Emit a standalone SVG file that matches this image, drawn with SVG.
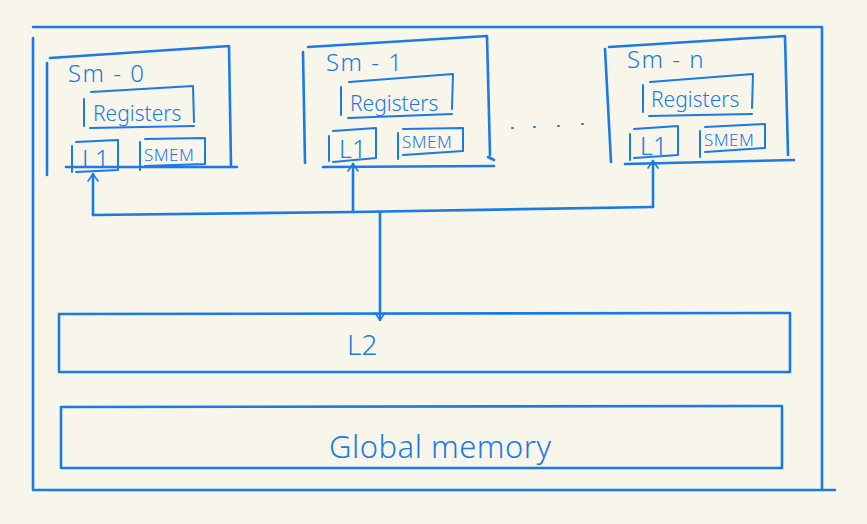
<svg xmlns="http://www.w3.org/2000/svg" width="867" height="524" viewBox="0 0 867 524">
<style>
.b{fill:none;stroke:#1a7ae6;stroke-width:2.6;stroke-linecap:round;stroke-linejoin:round}
.c{fill:none;stroke:#1a7ae6;stroke-width:2;stroke-linecap:round;stroke-linejoin:round}
.t{fill:#1a7ae6;font-family:"Noto Sans","DejaVu Sans",sans-serif;font-weight:300}
.sm{font-size:24px;letter-spacing:1.5px}
.rg{font-size:21px}
.l1{font-size:25px}
.se{font-size:17px;letter-spacing:0.5px}
</style>
<defs>
<marker id="ah" viewBox="0 0 12 12" refX="10" refY="6" markerWidth="12" markerHeight="12" markerUnits="userSpaceOnUse" orient="auto-start-reverse">
<path d="M3,1 L10,6 L3,11" fill="none" stroke="#1a7ae6" stroke-width="1.6" stroke-linecap="round" stroke-linejoin="round"/>
</marker>
</defs>
<rect width="867" height="524" fill="#f8f5eb"/>
<g id="frame">
<path class="b" d="M33,38 L33,490 L835,490 M33,27 L822,27 L822,490"/>
</g>
<g id="sm0">
<path class="b" d="M50,58 L229,46 L231,166 M47,63 L47,175 M66,167 L237,167"/>
<text class="t sm" x="68" y="82">Sm - 0</text>
<g id="sm0-reg"><path class="c" d="M84,99 L84,126 M91,92 L193,86 L194,122 M90,128 L194,126"/>
<text class="t rg" x="93" y="121">Registers</text></g>
<g id="sm0-l1"><path class="c" d="M72,146 L72,172 M76,142 L118,140 L118,170 L76,172"/>
<text class="t l1" x="82" y="168">L1</text></g>
<g id="sm0-smem"><path class="c" d="M140,142 L140,170 M145,139 L205,138 L205,164 L145,166"/>
<text class="t se" x="144" y="161">SMEM</text></g>
</g>
<g id="sm1">
<path class="b" d="M308,47 L487,36 L490,155 M303,52 L305,163 M323,167 L494,166 M488,157 L494,160"/>
<text class="t sm" x="326" y="71">Sm - 1</text>
<g id="sm1-reg"><path class="c" d="M341,87 L341,115 M349,82 L453,74 L452,109 M348,118 L452,114"/>
<text class="t rg" x="350" y="111">Registers</text></g>
<g id="sm1-l1"><path class="c" d="M329,136 L329,161 M333,131 L376,128 L376,158 L333,162"/>
<text class="t l1" x="339" y="158">L1</text></g>
<g id="sm1-smem"><path class="c" d="M398,133 L398,159 M403,129 L463,128 L463,151 L403,155"/>
<text class="t se" x="402" y="148">SMEM</text></g>
</g>
<g id="dots">
<path class="c" d="M512,128 L513,128 M534,127 L535,127 M558,126 L559,126 M582,124 L583,124"/>
</g>
<g id="smn">
<path class="b" d="M609,47 L785,36 L788,155 M605,49 L611,162 M625,164 L794,160"/>
<text class="t sm" x="627" y="68">Sm - n</text>
<g id="smn-reg"><path class="c" d="M643,85 L643,112 M650,82 L753,74 L752,108 M649,116 L752,114"/>
<text class="t rg" x="651" y="107">Registers</text></g>
<g id="smn-l1"><path class="c" d="M630,134 L630,160 M634,129 L678,126 L678,155 L634,158"/>
<text class="t l1" x="640" y="155">L1</text></g>
<g id="smn-smem"><path class="c" d="M700,131 L700,157 M705,127 L765,124 L765,148 L705,152"/>
<text class="t se" x="704" y="146">SMEM</text></g>
</g>
<g id="l2">
<path class="b" d="M59,314 L790,313 L790,372 L59,372 Z"/>
<text class="t" x="347" y="355" font-size="28">L2</text>
</g>
<g id="global-memory">
<path class="b" d="M61,407 L782,406 L782,468 L61,468 Z"/>
<text class="t" x="329" y="458" font-size="31" letter-spacing="0.5">Global memory</text>
</g>
<g id="connectors">
<path class="b" d="M93,215 L353,212 L653,207"/>
<path class="b" d="M93,215 L93,174" marker-end="url(#ah)"/>
<path class="b" d="M353,212 L353,164" marker-end="url(#ah)"/>
<path class="b" d="M653,207 L653,161" marker-end="url(#ah)"/>
<path class="b" d="M380,212 L380,320" marker-end="url(#ah)"/>
</g>
</svg>
